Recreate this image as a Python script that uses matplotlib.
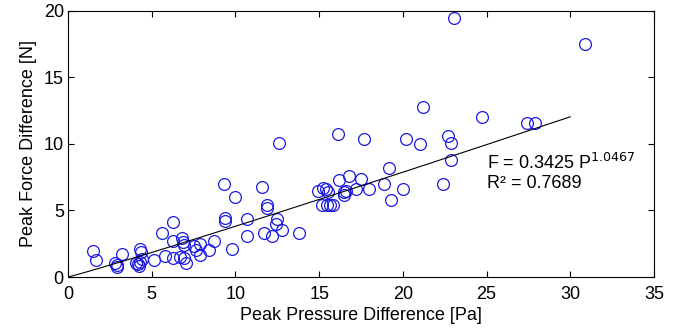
import numpy as np
import matplotlib
matplotlib.use("Agg")
import matplotlib.pyplot as plt

plt.rcParams['font.family'] = ['Liberation Sans', 'DejaVu Sans']

# peak pressure difference [Pa]
pressure = [1.5, 1.7, 2.8, 2.9, 2.9, 3.25, 4.05, 4.2, 4.3, 4.35, 4.3, 4.25, 4.4,
            5.15, 5.6, 6.3, 5.8, 6.25, 6.3, 6.8, 6.85, 6.9, 6.7, 6.9, 7.05,
            7.5, 7.65, 7.9, 7.9, 8.4, 8.7,
            9.3, 9.4, 9.4, 9.8, 10.0, 10.7, 10.7, 11.6, 11.7, 11.9, 11.9,
            12.2, 12.5, 12.4, 12.8, 12.6, 13.8,
            14.95, 15.25, 15.4, 15.55, 15.15, 15.45, 15.65, 15.8,
            16.1, 16.2, 16.8, 16.5, 16.6, 16.5, 17.2, 17.5, 17.7, 18.0,
            18.9, 19.2, 19.3, 20.0, 20.2, 21.0, 21.2,
            22.4, 22.7, 22.9, 22.9, 23.05, 24.7, 27.4, 27.9, 30.9]
# peak force difference [N]
force = [1.95, 1.3, 1.08, 0.9, 0.78, 1.7, 1.03, 0.95, 2.1, 1.9, 1.15, 0.85, 1.33,
         1.28, 3.33, 4.14, 1.6, 2.7, 1.45, 2.95, 2.65, 2.4, 1.48, 1.4, 1.03,
         2.3, 2.0, 2.5, 1.65, 2.0, 2.7,
         7.0, 4.4, 4.2, 2.1, 6.0, 4.36, 3.1, 6.8, 3.3, 5.4, 5.2,
         3.1, 4.36, 4.0, 3.5, 10.05, 3.3,
         6.5, 6.7, 6.6, 6.4, 5.4, 5.4, 5.4, 5.4,
         10.75, 7.3, 7.6, 6.4, 6.5, 6.2, 6.6, 7.4, 10.35, 6.6,
         7.0, 8.2, 5.8, 6.6, 10.4, 10.0, 12.8,
         7.0, 10.6, 10.1, 8.8, 19.5, 12.0, 11.6, 11.6, 17.5]

# power-law fit from the annotation
fit_a = 0.3425
fit_b = 1.0467
fit_r2 = 0.7689
fit_range = (0, 30)

fig = plt.figure(figsize=(6.83, 3.30), dpi=100)
ax = fig.add_axes([0.0996, 0.1606, 0.8579, 0.8061])

ax.plot(pressure, force, 'o', mfc='none', mec='#1a1ae0', ms=8.5, mew=0.9)

p = np.linspace(fit_range[0], fit_range[1], 200)
ax.plot(p, fit_a * p ** fit_b, color='black', lw=0.8)

ax.text(25.0, 8.6, f"F = {fit_a} P$^{{{fit_b}}}$", fontsize=13, va='center')
ax.text(25.0, 7.0, f"R² = {fit_r2}", fontsize=13, va='center')

ax.set_xlim(0, 35)
ax.set_ylim(0, 20)
ax.set_xticks(range(0, 36, 5))
ax.set_yticks(range(0, 21, 5))
ax.tick_params(direction='in', top=True, right=True, labelsize=13, length=4, width=0.8)
ax.tick_params(axis='x', pad=6.5)
ax.tick_params(axis='y', pad=3)
for s in ax.spines.values():
    s.set_linewidth(0.8)
ax.set_xlabel("Peak Pressure Difference [Pa]", fontsize=13, labelpad=3)
ax.set_ylabel("Peak Force Difference [N]", fontsize=13, labelpad=5)

fig.savefig("out.png", dpi=100)
